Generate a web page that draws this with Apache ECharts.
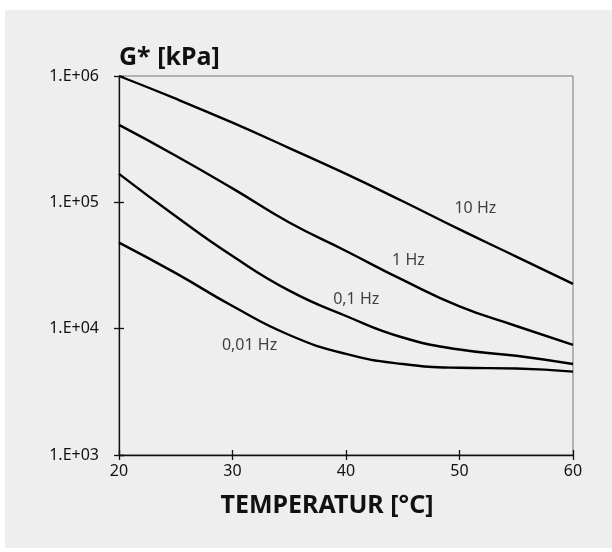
<!DOCTYPE html>
<html>
<head>
<meta charset="utf-8">
<script src="https://cdn.jsdelivr.net/npm/echarts@6/dist/echarts.min.js"></script>
<style>
  html, body { margin: 0; padding: 0; background: #ffffff; }
  #main { width: 612px; height: 552px; }
</style>
</head>
<body>
<div id="main"></div>
<script>
// temperatur [°C]
const temps = [20, 25, 30, 35, 40, 45, 50, 55, 60];
// G* [kPa] per frequency
const g10Hz = [1000000, 661000, 427000, 269000, 168000, 102000, 61000, 37200, 22600];
const g1Hz = [410000, 234000, 129000, 69200, 41200, 24300, 15000, 10500, 7430];
const g01Hz = [168000, 77600, 37600, 20000, 12600, 8510, 6840, 6100, 5250];
const g001Hz = [48000, 27500, 15100, 8910, 6310, 5250, 4900, 4840, 4570];

// curve labels (text, temp, G*)
const labelNames = ['10 Hz', '1 Hz', '0,1 Hz', '0,01 Hz'];
const labelT = [51.4, 45.5, 40.9, 31.5];
const labelG = [88700, 34400, 16900, 7300];

const xTicks = [20, 30, 40, 50, 60];

const font = '"Noto Sans", "Open Sans", sans-serif';

function pair(vals) {
  return temps.map(function (t, i) { return [t, vals[i]]; });
}

function curve(vals) {
  return {
    type: 'line',
    data: pair(vals),
    smooth: 0.5,
    symbol: 'none',
    lineStyle: { color: '#000', width: 2.4 },
    z: 3
  };
}

const myChart = echarts.init(document.getElementById('main'), null, { renderer: 'canvas' });

const xBase = {
  type: 'value',
  min: xTicks[0],
  max: xTicks[xTicks.length - 1],
  interval: 10,
  position: 'bottom',
  splitLine: { show: false }
};
const yBase = {
  type: 'log',
  logBase: 10,
  min: 1000,
  max: 1000000,
  position: 'left',
  splitLine: { show: false },
  minorTick: { show: false }
};
const tickStyle = { color: '#111', width: 1.3 };

myChart.setOption({
  backgroundColor: '#ffffff',
  animation: false,
  textStyle: { fontFamily: font },
  graphic: [{
    type: 'rect',
    shape: { x: 5, y: 10, width: 607, height: 538 },
    style: { fill: '#eeeeee' },
    z: -100,
    silent: true
  }],
  grid: {
    left: 119, right: 39, top: 76, bottom: 97,
    show: true,
    borderColor: '#777',
    borderWidth: 1,
    backgroundColor: 'transparent'
  },
  xAxis: [
    Object.assign({}, xBase, {
      name: 'TEMPERATUR [°C]',
      nameLocation: 'middle',
      nameGap: 38,
      nameTextStyle: {
        fontSize: 25, fontWeight: 'bold', color: '#111', fontFamily: font,
        padding: [0, 38, 0, 0]
      },
      axisLine: { show: true, lineStyle: tickStyle },
      axisTick: { show: true, inside: false, length: 5, lineStyle: tickStyle },
      axisLabel: { color: '#111', fontSize: 16, margin: 8, fontFamily: font }
    }),
    Object.assign({}, xBase, {
      axisLine: { show: false },
      axisTick: { show: true, inside: true, length: 5, lineStyle: tickStyle },
      axisLabel: { show: false }
    })
  ],
  yAxis: [
    Object.assign({}, yBase, {
      name: 'G* [kPa]',
      nameLocation: 'end',
      nameGap: 6,
      nameTextStyle: { fontSize: 25, fontWeight: 'bold', color: '#111', align: 'left', fontFamily: font },
      axisLine: { show: true, lineStyle: tickStyle },
      axisTick: { show: true, inside: false, length: 5, lineStyle: tickStyle },
      axisLabel: {
        color: '#111', fontSize: 16, margin: 20, fontFamily: font,
        formatter: function (v) {
          const e = Math.round(Math.log10(v));
          return '1.E+' + (e < 10 ? '0' : '') + e;
        }
      }
    }),
    Object.assign({}, yBase, {
      axisLine: { show: false },
      axisTick: { show: true, inside: true, length: 5, lineStyle: tickStyle },
      axisLabel: { show: false }
    })
  ],
  series: [
    curve(g10Hz),
    curve(g1Hz),
    curve(g01Hz),
    curve(g001Hz),
    {
      type: 'scatter',
      symbolSize: 0,
      data: labelNames.map(function (n, i) { return { name: n, value: [labelT[i], labelG[i]] }; }),
      label: {
        show: true,
        position: 'inside',
        formatter: '{b}',
        color: '#111',
        fontSize: 16,
        fontFamily: font
      },
      silent: true,
      z: 4
    }
  ]
});
</script>
</body>
</html>
